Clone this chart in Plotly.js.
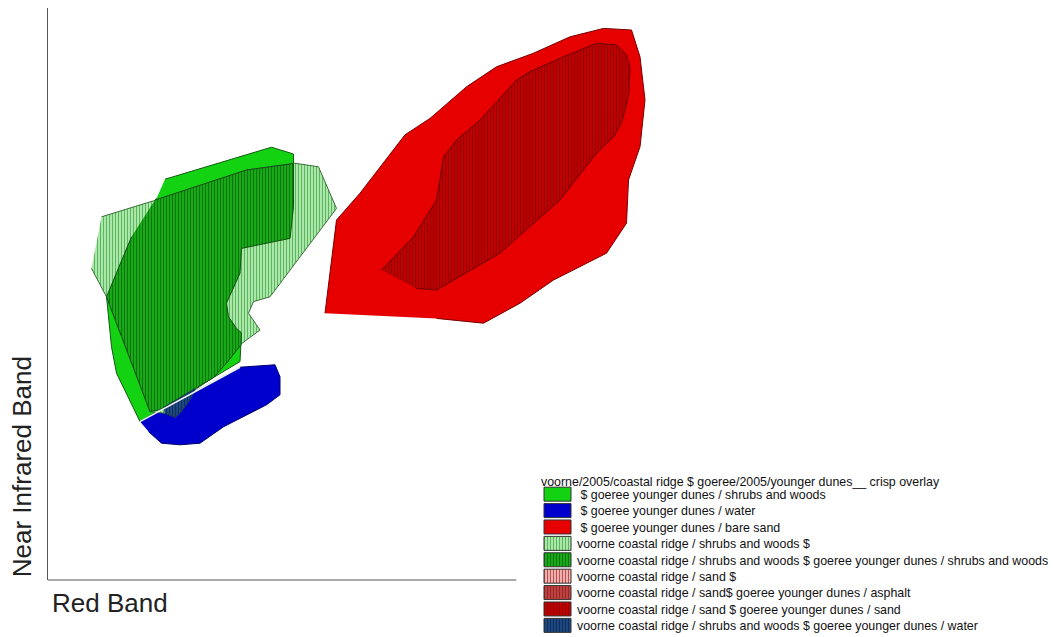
<!DOCTYPE html>
<html>
<head>
<meta charset="utf-8">
<script src="https://cdn.plot.ly/plotly-3.0.1.min.js"></script>
<style>
  html, body { margin: 0; padding: 0; background: #ffffff; }
  #chart { width: 1053px; height: 637px; }
</style>
</head>
<body>
<div id="chart"></div>
<script>
// Feature-space class regions (Red band vs Near Infrared band)
const legendTitle = "voorne/2005/coastal ridge $ goeree/2005/younger dunes__ crisp overlay";
const xTitle = "Red Band";
const yTitle = "Near Infrared Band";

// $ goeree younger dunes / shrubs and woods
const goereeShrubsX = [23.4, 44.7, 49.1, 49.1, 48.4, 38.7, 38.4, 35.7, 36.1, 37.7, 38.7, 38.4, 18.4, 13.7, 12.7, 11.7, 16.7, 21.7];
const goereeShrubsY = [100.2, 108.2, 106.5, 93.3, 85.4, 82.9, 76.7, 69.2, 65.8, 62.9, 61.8, 54.6, 39.6, 51.7, 58.3, 70.8, 85.8, 95.4];

// $ goeree younger dunes / water
const goereeWaterX = [18.4, 38.4, 45.4, 46.4, 46.4, 43.7, 35.1, 30.4, 26.4, 22.7, 20.1];
const goereeWaterY = [39.6, 53.2, 53.8, 50.8, 46.3, 43.8, 38.3, 34.2, 33.8, 34.2, 37.1];

// $ goeree younger dunes / bare sand
const goereeBareSandX = [55.4, 57.7, 62.4, 64.4, 71.4, 76.4, 83.7, 89.7, 97.1, 104.4, 111.1, 116.7, 118.4, 119.4, 118.4, 116.1, 115.7, 111.7, 101.1, 94.4, 87.1, 77.7];
const goereeBareSandY = [66.7, 90.0, 96.7, 100.0, 111.3, 115.4, 123.3, 128.3, 131.7, 135.8, 137.9, 137.5, 130.8, 120.0, 108.3, 100.0, 89.2, 81.7, 75.0, 69.2, 64.2, 65.4];

// voorne coastal ridge / shrubs and woods $
const voorneShrubsX = [10.7, 21.1, 39.7, 49.4, 54.1, 57.7, 44.4, 41.1, 40.1, 42.4, 38.4, 35.7, 33.1, 29.4, 28.1, 26.4, 25.4, 23.4, 20.4, 11.7, 8.7];
const voorneShrubsY = [90.8, 94.8, 102.5, 104.2, 103.3, 92.9, 70.8, 69.6, 66.7, 62.5, 58.8, 54.2, 50.8, 47.5, 44.6, 41.7, 40.7, 41.7, 42.1, 70.8, 77.9];

// voorne coastal ridge / shrubs and woods $ goeree younger dunes / shrubs and woods
const bothShrubsX = [21.4, 39.7, 49.1, 49.1, 48.4, 38.7, 38.4, 35.7, 36.1, 37.7, 38.7, 38.6, 35.7, 33.1, 22.4, 20.4, 11.7, 16.7];
const bothShrubsY = [95.0, 102.5, 104.1, 93.3, 85.4, 82.9, 76.7, 69.2, 65.8, 62.9, 61.8, 58.8, 54.2, 50.6, 42.6, 42.1, 70.8, 85.8];

// voorne coastal ridge / sand $  (no area in this view)
const voorneSandX = [null];
const voorneSandY = [null];

// voorne coastal ridge / sand$ goeree younger dunes / asphalt  (no area in this view)
const sandAsphaltX = [null];
const sandAsphaltY = [null];

// voorne coastal ridge / sand $ goeree younger dunes / sand
const bothSandX = [66.7, 73.1, 77.7, 78.7, 79.1, 81.7, 86.4, 93.7, 96.4, 103.1, 109.7, 113.7, 115.7, 116.4, 116.1, 114.7, 113.1, 109.7, 102.4, 90.4, 77.7, 73.7];
const bothSandY = [77.5, 85.8, 95.0, 102.5, 105.8, 110.0, 115.0, 125.0, 127.1, 130.8, 134.2, 133.8, 131.3, 128.3, 120.8, 114.2, 110.8, 106.7, 95.0, 81.7, 72.5, 72.9];

// voorne coastal ridge / shrubs and woods $ goeree younger dunes / water
const shrubsWaterX = [23.0, 29.4, 28.1, 26.4, 25.4, 23.4];
const shrubsWaterY = [43.0, 47.8, 44.6, 41.7, 40.7, 41.7];

function region(name, xs, ys, fill, edge, rank, pattern) {
  const t = {
    type: "scatter", mode: "lines", name: name,
    x: xs, y: ys, fill: "toself",
    fillcolor: fill,
    line: { color: edge, width: 1 },
    legendrank: rank,
    hoverinfo: "name"
  };
  if (pattern) {
    t.fillpattern = { shape: "|", bgcolor: fill, fgcolor: pattern, size: 3, solidity: 0.35, fillmode: "replace" };
  }
  return t;
}

const traces = [
  region(" $ goeree younger dunes / shrubs and woods", goereeShrubsX, goereeShrubsY, "rgb(18,210,18)", "rgb(20,90,20)", 1),
  region(" $ goeree younger dunes / water", goereeWaterX, goereeWaterY, "rgb(0,0,205)", "rgb(0,0,110)", 2),
  region(" $ goeree younger dunes / bare sand", goereeBareSandX, goereeBareSandY, "rgb(230,0,0)", "rgb(120,0,0)", 3),
  region("voorne coastal ridge / shrubs and woods $", voorneShrubsX, voorneShrubsY, "rgb(170,232,170)", "rgb(60,110,60)", 4, "rgb(95,180,95)"),
  region("voorne coastal ridge / shrubs and woods $ goeree younger dunes / shrubs and woods", bothShrubsX, bothShrubsY, "rgb(24,168,24)", "rgb(20,80,20)", 5, "rgb(10,120,10)"),
  region("voorne coastal ridge / sand $", voorneSandX, voorneSandY, "rgb(238,175,175)", "rgb(120,60,60)", 6, "rgb(190,80,80)"),
  region("voorne coastal ridge / sand$ goeree younger dunes / asphalt", sandAsphaltX, sandAsphaltY, "rgb(190,65,65)", "rgb(100,30,30)", 7, "rgb(150,40,40)"),
  region("voorne coastal ridge / sand $ goeree younger dunes / sand", bothSandX, bothSandY, "rgb(190,0,0)", "rgb(110,0,0)", 8, "rgb(150,0,0)"),
  region("voorne coastal ridge / shrubs and woods $ goeree younger dunes / water", shrubsWaterX, shrubsWaterY, "rgb(28,72,125)", "rgb(20,50,90)", 9, "rgb(15,45,95)"),
  {
    // light seam along the upper edge of the water region
    type: "scatter", mode: "lines",
    x: goereeWaterX.slice(0, 2), y: goereeWaterY.slice(0, 2),
    line: { color: "rgb(235,245,235)", width: 1.6 },
    showlegend: false, hoverinfo: "skip"
  }
];

const PLOT_TOP = 8, PLOT_H = 572;

const layout = {
  width: 1053, height: 637,
  margin: { l: 48, r: 0, t: PLOT_TOP, b: 637 - PLOT_TOP - PLOT_H },
  paper_bgcolor: "#ffffff", plot_bgcolor: "#ffffff",
  font: { family: "Liberation Sans, Arial, sans-serif", color: "#222" },
  showlegend: true,
  xaxis: { range: [0, 201], showgrid: false, zeroline: false, showticklabels: false, ticks: "", showline: false, fixedrange: true },
  yaxis: { range: [0, 143], showgrid: false, zeroline: false, showticklabels: false, ticks: "", showline: true, linecolor: "#555", linewidth: 1, fixedrange: true },
  shapes: [
    { type: "line", xref: "paper", yref: "paper", x0: 0, x1: 0.466, y0: 0, y1: 0, line: { color: "#555", width: 1 } }
  ],
  annotations: [
    { text: xTitle, xref: "paper", yref: "paper", x: 0.002, y: -0.01, xanchor: "left", yanchor: "top", showarrow: false, font: { size: 26, color: "#222" } },
    { text: yTitle, xref: "paper", yref: "paper", x: -0.026, y: 0.002, xanchor: "center", yanchor: "bottom", textangle: -90, showarrow: false, font: { size: 26, color: "#222" } }
  ],
  legend: {
    // laid out inside the plot area, then moved to the lower right corner
    x: 1, y: 0.95, xanchor: "right", yanchor: "top",
    bgcolor: "rgba(255,255,255,0)",
    font: { size: 12.4, color: "#111" },
    title: { text: legendTitle, font: { size: 12.4, color: "#111" } },
    itemclick: false, itemdoubleclick: false,
    traceorder: "normal"
  }
};

const LEGEND_TOP = 470;
const LEGEND_DX = 3;

Plotly.newPlot("chart", traces, layout, { staticPlot: true }).then(function (gd) {
  const leg = gd.querySelector(".legend");
  if (!leg) return;
  const lm = /translate\(\s*([-\d.]+)[ ,]+([-\d.]+)\s*\)/.exec(leg.getAttribute("transform"));
  if (lm) leg.setAttribute("transform", "translate(" + (parseFloat(lm[1]) + LEGEND_DX) + "," + LEGEND_TOP + ")");

  // compact legend rows with boxed swatches
  const rows = gd.querySelectorAll(".legend .traces");
  if (!rows.length) return;
  const m = /translate\(\s*([-\d.]+)[ ,]+([-\d.]+)\s*\)/.exec(rows[0].getAttribute("transform"));
  if (!m) return;
  const x0 = parseFloat(m[1]);
  const y0 = parseFloat(m[2]);
  const box = "M7,-7h27v14h-27z";
  rows.forEach(function (row, i) {
    row.setAttribute("transform", "translate(" + (x0 - 2) + "," + (y0 - 6.5 + i * 16.4) + ")");
    row.style.opacity = 1;
    row.querySelectorAll(".legendfill path").forEach(function (p) { p.setAttribute("d", box); });
    row.querySelectorAll(".legendlines path").forEach(function (p) {
      p.setAttribute("d", box);
      p.style.fill = "none";
      p.style.stroke = "#333";
      p.style.strokeWidth = "1px";
      p.style.strokeOpacity = 1;
    });
  });
});
</script>
</body>
</html>
